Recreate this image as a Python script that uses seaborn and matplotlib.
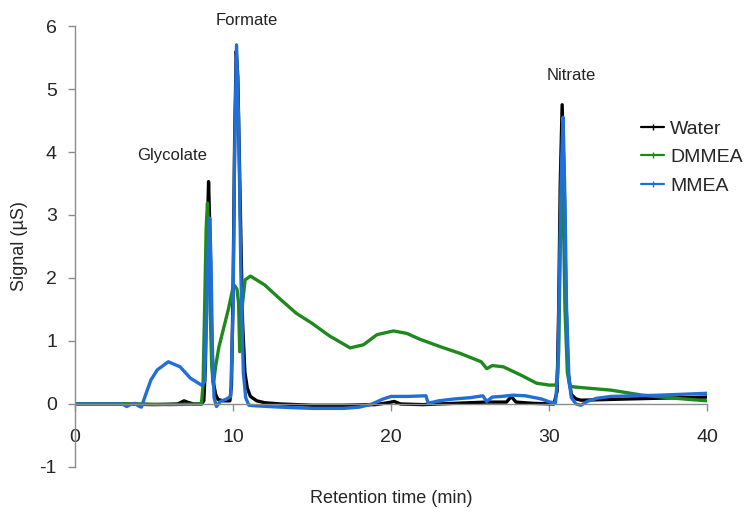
import numpy as np
import pandas as pd
import matplotlib
matplotlib.use("Agg")
import matplotlib.pyplot as plt
from matplotlib.lines import Line2D
import seaborn as sns

# ---- data ----
series_names = ["Water", "DMMEA", "MMEA"]

water_x = [0, 3, 5, 6.5, 6.9, 7.1, 7.5, 8.0, 8.15, 8.25, 8.35, 8.45, 8.55, 8.65, 8.75, 8.9, 9.05,
           9.4, 9.8, 9.9, 10.0, 10.1, 10.2, 10.3, 10.45, 10.6, 10.75, 10.9, 11.1, 11.5, 12, 13, 15,
           17, 19, 19.8, 20.2, 20.6, 22, 24, 26, 27.3, 27.6, 27.9, 29, 30.3, 30.5, 30.6, 30.7,
           30.82, 30.95, 31.05, 31.2, 31.4, 31.7, 32, 35, 40]
water_y = [0, 0, -0.01, 0, 0.05, 0.03, 0, 0, 0.05, 0.6, 2.5, 3.53, 2.6, 1.0, 0.35, 0.15, 0.07,
           0.05, 0.05, 0.3, 1.8, 4.2, 5.6, 5.2, 3.2, 1.3, 0.5, 0.25, 0.12, 0.05, 0.02, 0, -0.02,
           -0.02, -0.01, 0.02, 0.04, 0.0, -0.01, 0.01, 0.03, 0.03, 0.12, 0.03, 0.01, 0.0, 0.2, 1.5, 3.5,
           4.75, 3.5, 1.8, 0.5, 0.15, 0.08, 0.06, 0.08, 0.11]

dmmea_x = [0, 4, 6, 8.0, 8.1, 8.2, 8.3, 8.38, 8.47, 8.55, 8.65, 8.75, 8.9, 9.1, 9.4, 9.7, 10.0,
           10.1, 10.25, 10.35, 10.42, 10.5, 10.6, 10.76, 11.1, 12.0, 13.0, 14.0, 15.0, 16.1, 17.0,
           17.4, 18.25, 19.1, 20.15, 21.0, 21.8, 23.1, 24.4, 25.7, 26.05, 26.4, 27.1, 28.2, 29.2,
           30.0, 30.45, 30.6, 30.7, 30.8, 30.9, 31.0, 31.15, 31.3, 31.6, 33.9, 35.9, 38, 40]
dmmea_y = [0, 0, -0.01, 0, 0.3, 1.5, 2.8, 3.19, 2.6, 1.5, 0.6, 0.3, 0.6, 0.9, 1.2, 1.5, 1.85,
           1.88, 1.82, 1.6, 0.83, 1.2, 1.6, 1.97, 2.03, 1.89, 1.66, 1.44, 1.28, 1.08, 0.95,
           0.89, 0.94, 1.1, 1.16, 1.12, 1.03, 0.91, 0.8, 0.67, 0.56, 0.61, 0.59, 0.46, 0.33,
           0.30, 0.30, 0.8, 2.5, 3.85, 3.0, 1.5, 0.5, 0.28, 0.27, 0.22, 0.14, 0.09, 0.05]

mmea_x = [0, 3.0, 3.27, 3.5, 3.8, 4.0, 4.2, 4.5, 4.8, 5.2, 5.9, 6.65, 7.3, 8.0, 8.2, 8.3, 8.42,
          8.52, 8.6, 8.7, 8.8, 8.95, 9.2, 9.6, 9.85, 10.0, 10.1, 10.22, 10.35, 10.5, 10.65, 10.8,
          11.0, 11.5, 13, 15, 17, 18, 18.8, 19.5, 20, 21, 22.2, 22.35, 23, 24, 25, 25.8, 26.05,
          26.4, 27, 27.7, 28.5, 29.5, 30.05, 30.4, 30.55, 30.65, 30.78, 30.88, 31.0, 31.1, 31.25,
          31.4, 31.7, 32.0, 32.4, 33.0, 33.9, 37, 40]
mmea_y = [0, 0, -0.04, -0.01, 0.01, -0.03, -0.05, 0.17, 0.38, 0.54, 0.67, 0.59, 0.41, 0.30, 0.35,
          1.2, 2.4, 2.95, 2.3, 0.8, 0.1, -0.04, 0.04, 0.08, 0.12, 1.5, 4.0, 5.7, 4.5, 2.0, 0.5, 0.1,
          -0.02, -0.03, -0.05, -0.07, -0.07, -0.05, 0.0, 0.08, 0.12, 0.12, 0.13, 0.01, 0.05, 0.08,
          0.1, 0.13, 0.04, 0.11, 0.12, 0.14, 0.13, 0.08, 0.03, 0.02, 0.5, 2.0, 3.8, 4.55, 3.2, 1.5,
          0.4, 0.1, 0.0, -0.02, 0.04, 0.09, 0.12, 0.14, 0.17]

peak_labels = ["Glycolate", "Formate", "Nitrate"]
peak_label_x = [6.12, 10.87, 31.4]
peak_label_y = [3.95, 6.08, 5.22]

x_ticks = [0, 10, 20, 30, 40]
y_ticks = [-1, 0, 1, 2, 3, 4, 5, 6]

colors = {"Water": "#000000", "DMMEA": "#1e8a1e", "MMEA": "#1f6fd6"}

# ---- build long-form table ----
frames = []
for name, xs, ys in [("Water", water_x, water_y), ("DMMEA", dmmea_x, dmmea_y), ("MMEA", mmea_x, mmea_y)]:
    assert len(xs) == len(ys), name
    frames.append(pd.DataFrame({"time": xs, "signal": ys, "sample": name}))
df = pd.concat(frames, ignore_index=True)

sns.set_style("white")
plt.rcParams["font.family"] = ["Liberation Sans", "DejaVu Sans"]
plt.rcParams["axes.unicode_minus"] = False

fig = plt.figure(figsize=(7.5, 5.13), dpi=100)
ax = fig.add_axes([0.1, 0.0897, 0.843, 0.8596])

sns.lineplot(data=df, x="time", y="signal", hue="sample", hue_order=series_names,
             palette=colors, estimator=None, sort=False, units="sample",
             linewidth=2.4, ax=ax, legend=False)

ax.set_xlim(0, 40)
ax.set_ylim(-1, 6)
ax.set_xticks(x_ticks)
ax.set_yticks(y_ticks)

spine_col = "#8c8c8c"
for s in ["top", "right"]:
    ax.spines[s].set_visible(False)
ax.spines["bottom"].set_position(("data", 0))
ax.spines["bottom"].set_color(spine_col)
ax.spines["left"].set_color(spine_col)
ax.spines["bottom"].set_linewidth(1.0)
ax.spines["left"].set_linewidth(1.0)
ax.tick_params(axis="x", direction="out", length=5, width=1, color=spine_col,
               labelsize=14, pad=13, bottom=True)
ax.tick_params(axis="y", direction="out", length=5, width=1, color=spine_col,
               labelsize=14, pad=8, left=True)

ax.set_xlabel("Retention time (min)", fontsize=13)
ax.set_ylabel("Signal (µS)", fontsize=13)
ax.xaxis.set_label_coords(0.5, -0.052)
ax.yaxis.set_label_coords(-0.074, 0.5)

for lab, lx, ly in zip(peak_labels, peak_label_x, peak_label_y):
    ax.text(lx, ly, lab, ha="center", va="center", fontsize=12, color="#222222")

handles = [Line2D([0], [0], color=colors[n], lw=1.6, marker="|", markersize=4,
                  markeredgewidth=1.0) for n in series_names]
ax.legend(handles, series_names, loc="upper left", bbox_to_anchor=(0.895, 0.786),
          frameon=False, fontsize=14, handlelength=1.2, handletextpad=0.3,
          labelspacing=0.55, borderaxespad=0, borderpad=0, numpoints=1)

fig.savefig("out.png", dpi=100)
